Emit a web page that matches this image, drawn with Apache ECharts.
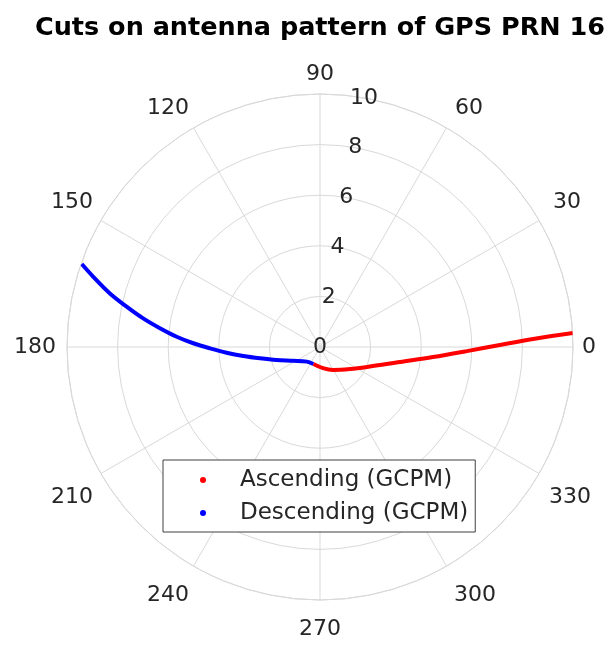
<!DOCTYPE html>
<html>
<head>
<meta charset="utf-8">
<title>Cuts on antenna pattern of GPS PRN 16</title>
<script src="https://cdn.jsdelivr.net/npm/echarts@6/dist/echarts.min.js"></script>
<style>
  html, body { margin: 0; padding: 0; background: #ffffff; }
  #chart { width: 610px; height: 645px; }
</style>
</head>
<body>
<div id="chart"></div>
<script>
// Ascending cut: radius and polar angle (degrees, counter-clockwise from east)
const ascR     = [0.72, 0.84, 1.04, 1.47, 2.02, 3.22, 4.48, 5.81, 7.11, 8.43, 10.02];
const ascTheta = [248.5, 278.0, 299.5, 323.7, 337.0, 349.4, 354.9, 358.4, 0.64, 2.15, 3.17];

// Descending cut
const descR     = [9.97, 9.38, 8.57, 7.81, 7.08, 6.37, 5.68, 5.01, 4.35, 3.70, 3.05, 2.41, 1.79, 1.19, 0.78, 0.72];
const descTheta = [160.8, 162.8, 165.7, 168.2, 170.8, 173.3, 175.9, 178.3, 180.7, 183.5, 186.7, 190.7, 196.7, 207.2, 227.9, 248.5];

// Axis ticks
const angleTicks  = [0, 30, 60, 90, 120, 150, 180, 210, 240, 270, 300, 330];
const radialTicks = [0, 2, 4, 6, 8, 10];

const seriesNames = ['Ascending (GCPM)', 'Descending (GCPM)'];

const FONT = 'DejaVu Sans';
const GRID = '#d9d9d9';
const TEXT = '#262626';

// extra spacing [top, right, bottom, left] that pushes each angle label
// a little further out from the rim
const anglePad = {
  0:   [0, 0, 0, 0],
  30:  [0, 0, 3, 6],
  60:  [0, 0, 1, 4],
  90:  [0, 0, 0, 0],
  120: [0, 0, 1, 0],
  150: [0, 0, 3, 0],
  180: [0, 2, 0, 0],
  210: [8, 0, 0, 0],
  240: [10, 0, 0, 0],
  270: [9, 0, 0, 0],
  300: [10, 0, 0, 3],
  330: [8, 0, 0, 2]
};

const angleRich = {};
angleTicks.forEach(t => {
  angleRich['a' + t] = { fontFamily: FONT, fontSize: 22, color: TEXT, padding: anglePad[t] };
});

function pairs(rs, ts) {
  return rs.map((r, i) => [r, ts[i]]);
}

const chart = echarts.init(document.getElementById('chart'), null, { renderer: 'canvas' });

chart.setOption({
  backgroundColor: '#ffffff',
  animation: false,
  title: {
    text: 'Cuts on antenna pattern of GPS PRN 16',
    left: 30,
    top: 11,
    textStyle: { fontFamily: FONT, fontSize: 25.5, fontWeight: 'bold', color: '#000000', lineHeight: 25 }
  },
  polar: [
    { center: [320, 347], radius: 253 },
    // second frame shares the same disc; only used to put radial labels along 80°
    { center: [320, 347], radius: 253 }
  ],
  angleAxis: [
    {
      polarIndex: 0,
      type: 'value',
      min: 0,
      max: 360,
      interval: angleTicks[1] - angleTicks[0],
      startAngle: 0,
      clockwise: false,
      axisLine: { show: true, lineStyle: { color: GRID, width: 1 } },
      axisTick: { show: false },
      axisLabel: {
        show: true,
        margin: 9,
        fontFamily: FONT,
        fontSize: 22,
        color: TEXT,
        formatter: v => (angleTicks.indexOf(v) >= 0 ? '{a' + v + '|' + v + '}' : ''),
        rich: angleRich
      },
      splitLine: { show: true, lineStyle: { color: GRID, width: 1 } }
    },
    {
      polarIndex: 1,
      type: 'value',
      min: 0,
      max: 360,
      startAngle: 80,
      clockwise: false,
      axisLine: { show: false },
      axisTick: { show: false },
      axisLabel: { show: false },
      splitLine: { show: false }
    }
  ],
  radiusAxis: [
    {
      polarIndex: 0,
      type: 'value',
      min: radialTicks[0],
      max: radialTicks[radialTicks.length - 1],
      interval: radialTicks[1] - radialTicks[0],
      axisLine: { show: false },
      axisTick: { show: false },
      axisLabel: { show: false },
      splitLine: { show: true, lineStyle: { color: GRID, width: 1 } }
    },
    {
      polarIndex: 1,
      type: 'value',
      min: radialTicks[0],
      max: radialTicks[radialTicks.length - 1],
      interval: radialTicks[1] - radialTicks[0],
      axisLine: { show: false },
      axisTick: { show: false },
      splitLine: { show: false },
      axisLabel: {
        show: true,
        margin: 0,
        align: 'center',
        verticalAlign: 'middle',
        rotate: 0,
        fontFamily: FONT,
        fontSize: 22,
        color: TEXT
      }
    }
  ],
  legend: {
    orient: 'vertical',
    left: 163,
    top: 460,
    data: seriesNames,
    icon: 'circle',
    itemWidth: 6,
    itemHeight: 6,
    itemGap: 9,
    padding: [8, 7, 7, 37],
    backgroundColor: '#ffffff',
    borderColor: '#404040',
    borderWidth: 1,
    borderRadius: 0,
    selectedMode: false,
    textStyle: {
      fontFamily: FONT,
      fontSize: 23,
      color: TEXT,
      lineHeight: 24,
      padding: [0, 0, 0, 29]
    }
  },
  series: [
    {
      name: seriesNames[0],
      type: 'line',
      coordinateSystem: 'polar',
      polarIndex: 0,
      data: pairs(ascR, ascTheta),
      smooth: 0.35,
      showSymbol: false,
      symbol: 'circle',
      itemStyle: { color: '#ff0000' },
      lineStyle: { color: '#ff0000', width: 4 },
      z: 3
    },
    {
      name: seriesNames[1],
      type: 'line',
      coordinateSystem: 'polar',
      polarIndex: 0,
      data: pairs(descR, descTheta),
      smooth: 0.35,
      showSymbol: false,
      symbol: 'circle',
      itemStyle: { color: '#0000ff' },
      lineStyle: { color: '#0000ff', width: 4 },
      z: 3
    }
  ]
});
</script>
</body>
</html>
